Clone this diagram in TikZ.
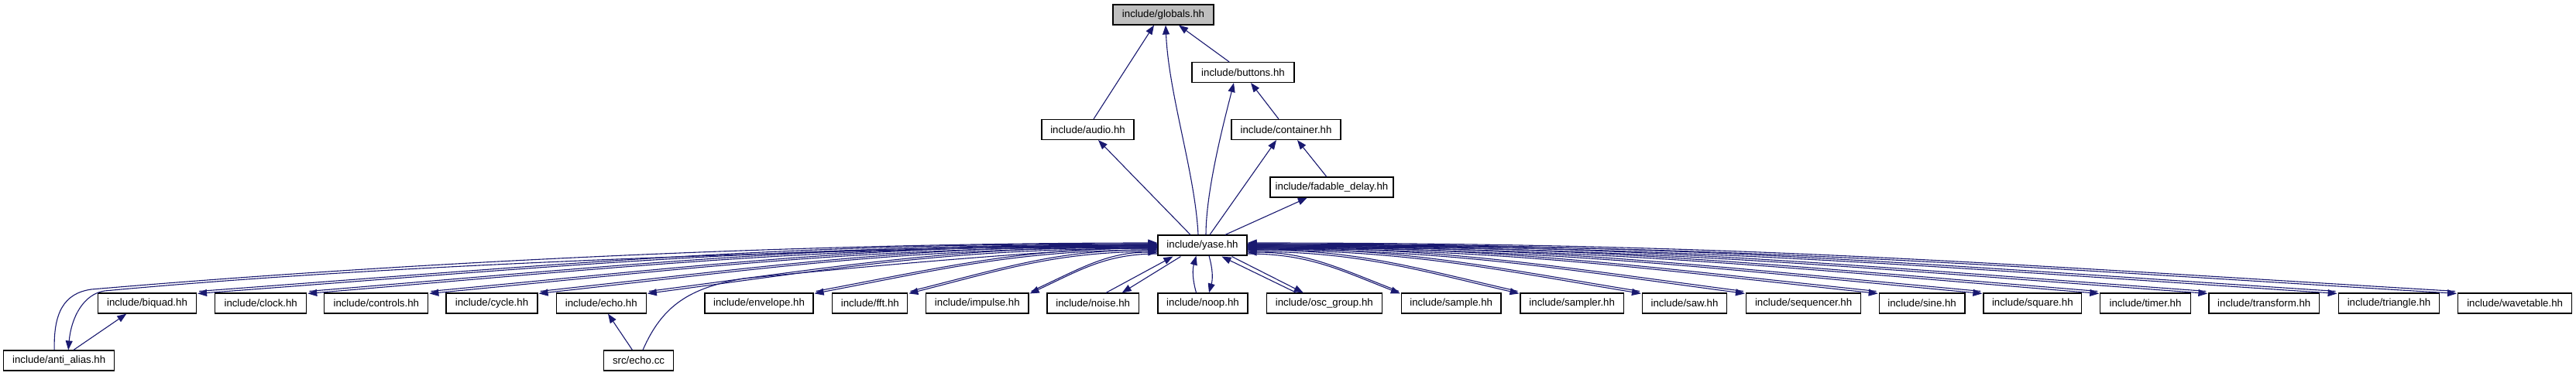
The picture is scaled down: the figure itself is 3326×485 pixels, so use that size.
\documentclass[tikz,border=0pt]{standalone}
\usepackage{fontspec}
\setmainfont{Liberation Sans}
\usetikzlibrary{arrows.meta,calc}
\definecolor{edgeblue}{RGB}{25,25,112}
\definecolor{hdrgray}{RGB}{191,191,191}
\begin{document}
\begin{tikzpicture}[x=1pt,y=-1pt,
  box/.style={draw=black, line width=1.2pt, minimum height=26pt, inner sep=0pt,
    fill=white, font=\fontsize{13.25}{15}\selectfont},
  edge/.style={draw=edgeblue, line width=1.1pt, -{Triangle[length=12pt,width=9pt]}}]
\useasboundingbox (0,0) rectangle (3326,485);
% upper nodes
\node[box, fill=hdrgray, minimum width=130pt] (globals) at (1502,19) {include/globals.hh};
\node[box, minimum width=132pt] (buttons) at (1605,93.5) {include/buttons.hh};
\node[box, minimum width=119pt] (audio) at (1404.5,167.5) {include/audio.hh};
\node[box, minimum width=141pt] (container) at (1660.5,167.5) {include/container.hh};
\node[box, minimum width=159pt] (fadable) at (1719.5,242) {include/fadable\_delay.hh};
\node[box, minimum width=115pt] (yase) at (1552.5,317) {include/yase.hh};
% bottom row
\node[box, minimum width=143pt] (antialias) at (76.2,466) {include/anti\_alias.hh};
\node[box, minimum width=127pt] (biquad) at (190,392) {include/biquad.hh};
\node[box, minimum width=118pt] (clock) at (336.7,392) {include/clock.hh};
\node[box, minimum width=134pt] (controls) at (485.8,392) {include/controls.hh};
\node[box, minimum width=118pt] (cycle) at (635,392) {include/cycle.hh};
\node[box, minimum width=116pt] (echo) at (776.3,392) {include/echo.hh};
\node[box, minimum width=90pt] (echocc) at (824.5,466) {src/echo.cc};
\node[box, minimum width=140pt] (envelope) at (980,392) {include/envelope.hh};
\node[box, minimum width=97pt] (fft) at (1123.3,392) {include/fft.hh};
\node[box, minimum width=132.5pt] (impulse) at (1261.8,392) {include/impulse.hh};
\node[box, minimum width=118.5pt] (noise) at (1411.2,392) {include/noise.hh};
\node[box, minimum width=116pt] (noop) at (1553,392) {include/noop.hh};
\node[box, minimum width=149pt] (oscgroup) at (1709.8,392) {include/osc\_group.hh};
\node[box, minimum width=128.6pt] (sample) at (1873.7,392) {include/sample.hh};
\node[box, minimum width=133.4pt] (sampler) at (2029.7,392) {include/sampler.hh};
\node[box, minimum width=109pt] (saw) at (2175,392) {include/saw.hh};
\node[box, minimum width=148.2pt] (sequencer) at (2328.6,392) {include/sequencer.hh};
\node[box, minimum width=110.7pt] (sine) at (2481.6,392) {include/sine.hh};
\node[box, minimum width=126.7pt] (square) at (2624.3,392) {include/square.hh};
\node[box, minimum width=116.3pt] (timer) at (2770,392) {include/timer.hh};
\node[box, minimum width=142.5pt] (transform) at (2923.2,392) {include/transform.hh};
\node[box, minimum width=130.6pt] (triangle) at (3084.5,392) {include/triangle.hh};
\node[box, minimum width=147pt] (wavetable) at (3247.1,392) {include/wavetable.hh};

% upper edges
\draw[edge] ($(audio.north)+(7.5pt,0pt)$) -- ($(globals.south)+(-12pt,0pt)$);
\draw[edge] ($(yase.north)+(-5.5pt,0pt)$) .. controls +(-4pt,80pt) and +(4pt,-90pt) .. ($(globals.south)+(3pt,0pt)$);
\draw[edge] ($(buttons.north)+(-18pt,0pt)$) -- ($(globals.south)+(20pt,0pt)$);
\draw[edge] ($(yase.north)+(4.5pt,0pt)$) .. controls +(0pt,60pt) and +(-10pt,-40pt) .. ($(buttons.south)+(-12pt,0pt)$);
\draw[edge] ($(container.north)+(-9.5pt,0pt)$) -- ($(buttons.south)+(10pt,0pt)$);
\draw[edge] ($(yase.north)+(-15.5pt,0pt)$) -- ($(audio.south)+(13.5pt,0pt)$);
\draw[edge] ($(yase.north)+(9.5pt,0pt)$) -- ($(container.south)+(-12.5pt,0pt)$);
\draw[edge] ($(fadable.north)+(-6.7pt,0pt)$) -- ($(container.south)+(14.5pt,0pt)$);
\draw[edge] ($(yase.north)+(29.5pt,0pt)$) -- ($(fadable.south)+(-31.7pt,0pt)$);

% left bottom nodes <-> yase
\foreach \nm/\dd in {biquad/2pt, clock/1pt, controls/0pt, cycle/-1pt, echo/-2pt, envelope/-4pt, fft/-6pt, impulse/-9pt}{
  \draw[edge] let \p1=($(\nm.north east)+(3pt,2pt)$), \p2=($(yase.west)+(0pt,\dd)$) in
    (\p1) .. controls +({0.4*(\x2-\x1)},{0.6*(\y2-\y1)}) and +({-0.4*(\x2-\x1)},0pt) .. (\p2);
  \draw[edge] let \p1=($(yase.west)+(0pt,\dd-2pt)$), \p2=($(\nm.north east)+(1pt,-1pt)$) in
    (\p1) .. controls +({0.4*(\x2-\x1)},0pt) and +({-0.4*(\x2-\x1)},{0.6*(\y1-\y2)}) .. (\p2);
}
% right bottom nodes <-> yase
\foreach \nm/\dd in {sample/-9pt, sampler/-6pt, saw/-4pt, sequencer/-3pt, sine/-2pt, square/-1pt, timer/0pt, transform/1pt, triangle/2pt, wavetable/3pt}{
  \draw[edge] let \p1=($(\nm.north west)+(-3pt,2pt)$), \p2=($(yase.east)+(0pt,\dd)$) in
    (\p1) .. controls +({0.4*(\x2-\x1)},{0.6*(\y2-\y1)}) and +({-0.4*(\x2-\x1)},0pt) .. (\p2);
  \draw[edge] let \p1=($(yase.east)+(0pt,\dd-2pt)$), \p2=($(\nm.north west)+(-1pt,-1pt)$) in
    (\p1) .. controls +({0.4*(\x2-\x1)},0pt) and +({-0.4*(\x2-\x1)},{0.6*(\y1-\y2)}) .. (\p2);
}
% near nodes
\draw[edge] ($(noise.north)+(16.8pt,0pt)$) -- ($(yase.south west)+(20pt,-1pt)$);
\draw[edge] ($(yase.south west)+(30pt,-1pt)$) -- ($(noise.north)+(37.5pt,0pt)$);
\draw[edge] ($(noop.north)+(-8.5pt,0pt)$) .. controls +(-5pt,18pt) and +(-5pt,-18pt) .. ($(yase.south)+(-8pt,0pt)$);
\draw[edge] ($(yase.south)+(8.5pt,0pt)$) .. controls +(5pt,-18pt) and +(5pt,18pt) .. ($(noop.north)+(8pt,0pt)$);
\draw[edge] ($(oscgroup.north)+(-36pt,0pt)$) -- ($(yase.south)+(25pt,-1pt)$);
\draw[edge] ($(yase.south)+(38pt,-1pt)$) -- ($(oscgroup.north)+(-27pt,0pt)$);

% anti_alias
\draw[edge] ($(antialias.north)+(-6pt,0pt)$) .. controls (69,405) and (82,379) .. (118,374)
   .. controls (480,343) and (1000,314) .. ($(yase.west)+(0pt,3pt)$);
\draw[edge] ($(yase.west)+(0pt,1pt)$) .. controls (1000,324) and (500,342) .. (135,376)
   .. controls (108,380) and (92,410) .. ($(antialias.north)+(12pt,0pt)$);
\draw[edge] ($(antialias.north)+(18.7pt,0pt)$) -- ($(biquad.south)+(-26.7pt,0pt)$);
% echo.cc
\draw[edge] ($(echocc.north)+(-8pt,0pt)$) -- ($(echo.south)+(8.7pt,0pt)$);
\draw[edge] ($(echocc.north)+(5.5pt,0pt)$) .. controls (855,395) and (890,372) .. (960,360)
   .. controls (1200,336) and (1400,321) .. ($(yase.west)+(0pt,-3pt)$);
\end{tikzpicture}
\end{document}
